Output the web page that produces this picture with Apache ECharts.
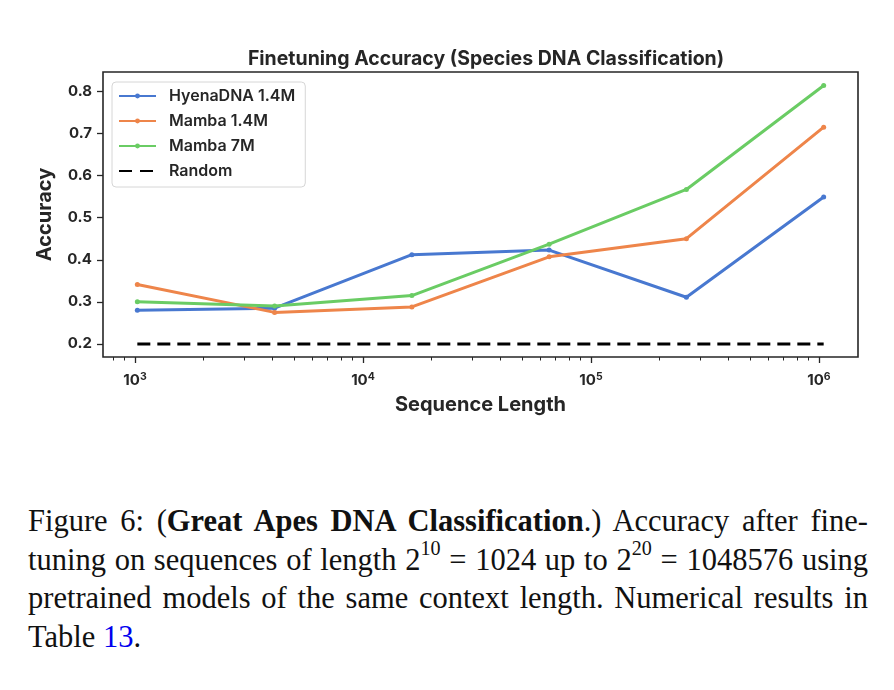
<!DOCTYPE html>
<html lang="en">
<head>
    <meta charset="UTF-8">
    <title>Finetuning Accuracy (Species DNA Classification)</title>
    <script src="https://cdn.jsdelivr.net/npm/echarts@6/dist/echarts.min.js"></script>
    <style>
        * {
            margin: 0;
            padding: 0;
            box-sizing: border-box;
        }

        body {
            width: 894px;
            height: 690px;
            background: #fff;
            position: relative;
            overflow: hidden;
        }

        #chart {
            position: absolute;
            left: 0;
            top: 0;
            width: 894px;
            height: 440px;
        }

        #caption {
            position: absolute;
            left: 28px;
            top: 502px;
            width: 840px;
            font-family: "Liberation Serif", "DejaVu Serif", serif;
            font-size: 30.5px;
            line-height: 38.5px;
            color: #111;
        }

        #caption div {
            white-space: nowrap;
            text-align: justify;
            text-align-last: justify;
        }

        #caption div.last {
            text-align-last: left;
        }

        #caption sup {
            font-size: 0.66em;
            line-height: 0;
            vertical-align: 0.75em;
        }

        #caption a {
            color: #0000ee;
            text-decoration: none;
        }
    </style>
</head>
<body>
    <div id="chart"></div>
    <div id="caption">
        <div>Figure 6: (<b>Great Apes DNA Classification</b>.) Accuracy after fine-</div>
        <div>tuning on sequences of length 2<sup>10</sup> = 1024 up to 2<sup>20</sup> = 1048576 using</div>
        <div>pretrained models of the same context length. Numerical results in</div>
        <div class="last">Table <a href="#">13</a>.</div>
    </div>

    <script>
        // 数据
        const seqLength = [1024, 4096, 16384, 65536, 262144, 1048576];
        const hyenaAcc = [0.280, 0.285, 0.412, 0.423, 0.311, 0.549];
        const mamba14Acc = [0.341, 0.275, 0.288, 0.407, 0.450, 0.715];
        const mamba7Acc = [0.300, 0.290, 0.315, 0.437, 0.567, 0.814];
        const randomAcc = 0.2;

        const xMajorTicks = [1e3, 1e4, 1e5, 1e6];
        const xMinorMult = [2, 3, 4, 5, 6, 7, 8, 9];
        const xMinorDecades = [1e2, 1e3, 1e4, 1e5, 1e6];
        const yTicks = [0.2, 0.3, 0.4, 0.5, 0.6, 0.7, 0.8];

        const xMinorTicks = [];
        xMinorDecades.forEach(function (d) {
            xMinorMult.forEach(function (m) { xMinorTicks.push(d * m); });
        });

        const pairs = function (ys) {
            return seqLength.map(function (x, i) { return [x, ys[i]]; });
        };

        const ink = '#262626';
        const font = 'Inter, Roboto, "DejaVu Sans", sans-serif';

        const chart = echarts.init(document.getElementById('chart'));
        const option = {
            backgroundColor: '#fff',
            animation: false,
            title: {
                text: 'Finetuning Accuracy (Species DNA Classification)',
                left: 481,
                textAlign: 'center',
                top: 44,
                textStyle: { fontFamily: font, fontSize: 19.5, fontWeight: 'bold', color: ink }
            },
            legend: {
                orient: 'vertical',
                left: 112,
                top: 82,
                padding: [5, 10, 7, 6],
                itemGap: 7,
                itemWidth: 37,
                itemHeight: 6,
                backgroundColor: '#fff',
                borderColor: '#d6d6d6',
                borderWidth: 1,
                borderRadius: 4,
                textStyle: { fontFamily: font, fontSize: 16, fontWeight: 600, color: ink, lineHeight: 18, padding: [0, 0, 0, 8] },
                data: [
                    'HyenaDNA 1.4M',
                    'Mamba 1.4M',
                    'Mamba 7M',
                    { name: 'Random', itemStyle: { color: 'rgba(0,0,0,0)', borderWidth: 0 }, lineStyle: { type: [13, 8] } }
                ]
            },
            grid: {
                left: 103,
                top: 72,
                width: 755,
                height: 285,
                show: true,
                borderColor: ink,
                borderWidth: 1.6,
                backgroundColor: 'transparent'
            },
            xAxis: [
                {
                    type: 'log',
                    logBase: 10,
                    min: 724,
                    max: 1483000,
                    position: 'bottom',
                    name: 'Sequence Length',
                    nameLocation: 'middle',
                    nameGap: 38,
                    nameTextStyle: { fontFamily: font, fontSize: 20, fontWeight: 'bold', color: ink },
                    axisLine: { show: false },
                    splitLine: { show: false },
                    minorTick: { show: false },
                    axisTick: {
                        show: true,
                        length: 6,
                        customValues: xMajorTicks,
                        lineStyle: { color: ink, width: 1.3 }
                    },
                    axisLabel: {
                        customValues: xMajorTicks,
                        margin: 14,
                        formatter: function (v) {
                            return '10{sup|' + Math.round(Math.log10(v)) + '}';
                        },
                        fontFamily: font,
                        fontSize: 15,
                        fontWeight: 'bold',
                        color: ink,
                        lineHeight: 18,
                        rich: {
                            sup: { fontFamily: font, fontSize: 10.5, fontWeight: 'bold', color: ink, verticalAlign: 'top', lineHeight: 12 }
                        }
                    }
                },
                {
                    type: 'log',
                    logBase: 10,
                    min: 724,
                    max: 1483000,
                    position: 'bottom',
                    axisLine: { show: false },
                    splitLine: { show: false },
                    axisLabel: { show: false },
                    axisTick: {
                        show: true,
                        length: 3.5,
                        customValues: xMinorTicks,
                        lineStyle: { color: ink, width: 1 }
                    }
                }
            ],
            yAxis: {
                type: 'value',
                min: 0.169,
                max: 0.846,
                name: 'Accuracy',
                nameLocation: 'middle',
                nameRotate: 90,
                nameGap: 48,
                nameTextStyle: { fontFamily: font, fontSize: 20, fontWeight: 'bold', color: ink },
                axisLine: { show: false },
                splitLine: { show: false },
                axisTick: {
                    show: true,
                    length: 6,
                    customValues: yTicks,
                    lineStyle: { color: ink, width: 1.3 }
                },
                axisLabel: {
                    customValues: yTicks,
                    margin: 11,
                    formatter: function (v) { return v.toFixed(1); },
                    fontFamily: font,
                    fontSize: 15,
                    fontWeight: 'bold',
                    color: ink
                }
            },
            series: [
                {
                    name: 'HyenaDNA 1.4M',
                    type: 'line',
                    data: pairs(hyenaAcc),
                    symbol: 'circle',
                    symbolSize: 5,
                    color: '#4878d0',
                    lineStyle: { width: 3 }
                },
                {
                    name: 'Mamba 1.4M',
                    type: 'line',
                    data: pairs(mamba14Acc),
                    symbol: 'circle',
                    symbolSize: 5,
                    color: '#ee854a',
                    lineStyle: { width: 3 }
                },
                {
                    name: 'Mamba 7M',
                    type: 'line',
                    data: pairs(mamba7Acc),
                    symbol: 'circle',
                    symbolSize: 5,
                    color: '#6acc64',
                    lineStyle: { width: 3 }
                },
                {
                    name: 'Random',
                    type: 'line',
                    data: [[seqLength[0], randomAcc], [seqLength[seqLength.length - 1], randomAcc]],
                    symbol: 'none',
                    color: '#000',
                    lineStyle: { width: 3, type: [13, 7] }
                }
            ]
        };
        chart.setOption(option);
    </script>
</body>
</html>
